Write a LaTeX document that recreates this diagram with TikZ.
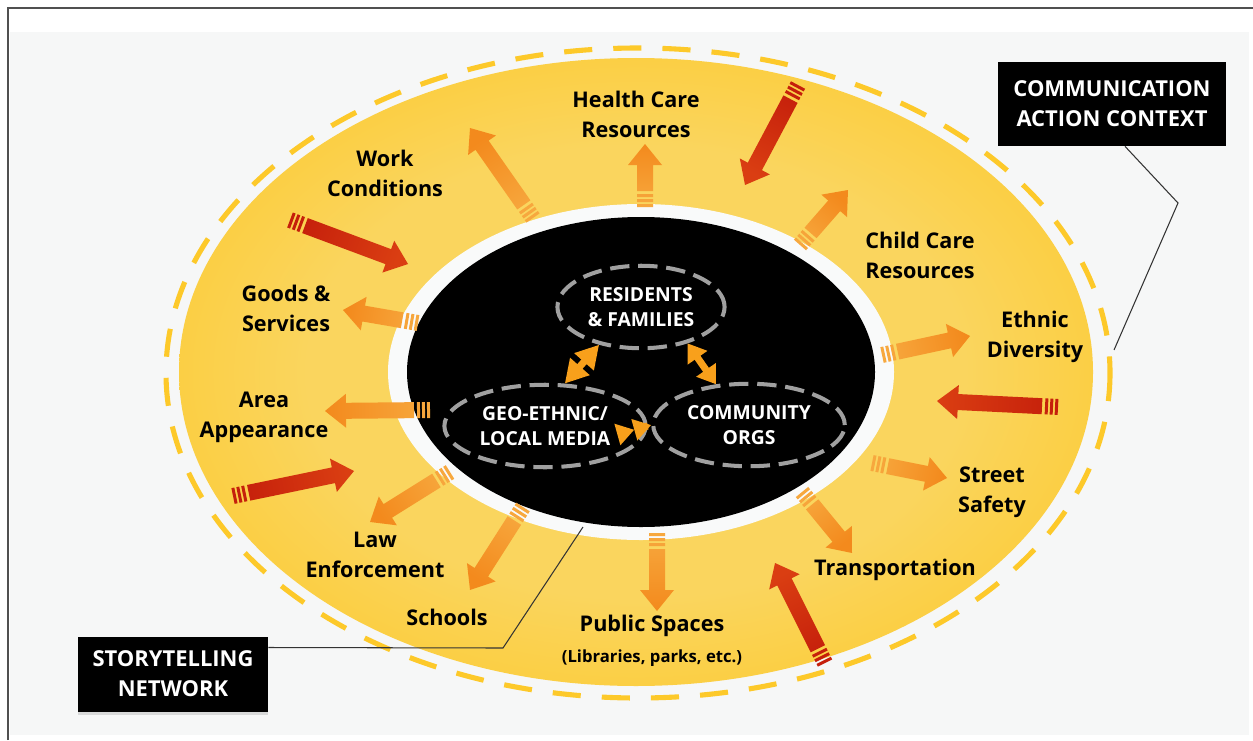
\documentclass[tikz,border=0pt]{standalone}
\usepackage{fontspec}
\setmainfont{Open Sans}
\usetikzlibrary{arrows.meta, positioning, shapes.geometric, shadows}
\definecolor{cframe}{HTML}{505050}
\definecolor{cpaper}{HTML}{F6F7F7}
\definecolor{cring}{HTML}{F9FAFA}
\definecolor{cyellow}{HTML}{FDC724}
\definecolor{cyellowlt}{HTML}{FAD55E}
\definecolor{cdash}{HTML}{FDC92A}
\definecolor{cgrey}{HTML}{A0A0A0}
\definecolor{corange}{HTML}{F7A83E}
\definecolor{corangedk}{HTML}{F38A1D}
\definecolor{cred}{HTML}{C51F0B}
\definecolor{credlt}{HTML}{DA3E12}
\definecolor{cinner}{HTML}{F8A01B}
\pgfdeclareradialshading{yellowglow}{\pgfpointorigin}{%
  color(0bp)=(cyellowlt); color(18bp)=(cyellowlt); color(34bp)=(cyellow); color(50bp)=(cyellow)}
\tikzset{
  every picture/.style={x=0.02cm, y=-0.02cm},
  lbl/.style={align=center, inner sep=1pt, font=\fontsize{12.3}{17}\selectfont\bfseries},
  small/.style={inner sep=1pt, font=\fontsize{9.5}{12}\selectfont\bfseries},
  tag/.style={fill=black, text=white, align=center, font=\fontsize{12.5}{17}\selectfont\bfseries},
  actor/.style={ellipse, draw=cgrey, line width=2.3pt, dash pattern=on 11pt off 5pt, text=white, align=center,
    font=\fontsize{11}{14}\selectfont\bfseries, minimum width=3.3cm, minimum height=1.65cm},
  link/.style={draw=cinner, line width=4pt},
  leader/.style={draw=black!80, line width=0.6pt},
}
% fat arrow with a striped tail: tail colour, head colour, tail x/y, head x/y
\newcommand\fatarrow[6]{%
  \pgfmathsetmacro\arang{atan2(#4-#6,#5-#3)}%
  \pgfmathsetmacro\arlen{veclen(#5-#3,#6-#4)}%
  \pgfmathsetmacro\arshade{\arang+90}%
  \begin{scope}[shift={(#3,#4)}, rotate=\arang, x=0.02cm, y=0.02cm]
    \shade[top color=#1, bottom color=#2, shading angle=\arshade]
      (0,-8) rectangle (3,8) (5,-8) rectangle (8,8) (10,-8) rectangle (13,8)
      (16,-8) -- (\arlen-21,-8) -- (\arlen-21,-17) -- (\arlen,0)
      -- (\arlen-21,17) -- (\arlen-21,8) -- (16,8) -- cycle;
  \end{scope}}

\begin{document}
\begin{tikzpicture}
  \useasboundingbox (0,0) rectangle (1253,740);
  \fill[white] (0,0) rectangle (1253,740);
  \fill[cpaper] (10,32) rectangle (1249,735);
  \draw[cframe, line width=1.2pt] (8,740) -- (8,8) -- (1253,8);

  % context rings
  \draw[cdash, line width=2.9pt, dash pattern=on 16pt off 12pt] (638,373) ellipse [x radius=472, y radius=325];
  \shade[shading=yellowglow] (636,372) ellipse [x radius=457, y radius=314];
  \fill[cring] (641,372) ellipse [x radius=253, y radius=168];
  \fill[black] (641,372) ellipse [x radius=234, y radius=155];

  % storytelling network
  \node[actor] (res) at (641,307) {RESIDENTS\\\& FAMILIES};
  \node[actor] (geo) at (545,426) {GEO-ETHNIC/\\LOCAL MEDIA};
  \node[actor] (org) at (749,425) {COMMUNITY\\ORGS};
  \draw[link, {Triangle[length=13pt,width=14pt]}-{Triangle[length=13pt,width=14pt]}] (res.222) -- (geo.65);
  \draw[link, {Triangle[length=10pt,width=13pt]}-{Triangle[length=10pt,width=13pt]}] (res.322) -- (org.129);
  \draw[link, -{Triangle[length=10pt,width=12pt]Triangle[length=10pt,width=12pt]}] (geo.east) -- (org.west);

  % resources going out, pressures coming in
  \foreach \tx/\ty/\hx/\hy in {533/218/470/128, 645/207/645/144, 800/245/848/190, 882/355/970/336,
      872/463/947/478, 802/492/852/553, 657/533/657/611, 523/507/470/590, 450/472/370/522,
      430/410/325/411, 418/323/343/310}
    {\fatarrow{corange}{corangedk}{\tx}{\ty}{\hx}{\hy}}
  \foreach \tx/\ty/\hx/\hy in {290/220/408/264, 798/85/745/185, 1058/407/937/401, 825/663/775/563, 233/496/354/471}
    {\fatarrow{cred}{credlt}{\tx}{\ty}{\hx}{\hy}}

  \node[lbl] (work) at (385,173) {Work\\Conditions};
  \node[lbl] (health) at (636,114) {Health Care\\Resources};
  \node[lbl] (child) at (920,255) {Child Care\\Resources};
  \node[lbl] (ethnic) at (1035,337) {Ethnic\\Diversity};
  \node[lbl] (street) at (992,492) {Street\\Safety};
  \node[lbl] (transp) at (895,570) {Transportation};
  \node[lbl] (public) at (652,626) {Public Spaces};
  \node[small] (publicsub) at (652,658) {(Libraries, parks, etc.)};
  \node[lbl] (schools) at (447,617) {Schools};
  \node[lbl] (law) at (375,555) {Law\\Enforcement};
  \node[lbl] (area) at (264,417) {Area\\Appearance};
  \node[lbl] (goods) at (286,308) {Goods \&\\Services};

  % callouts
  \node[tag, minimum width=4.58cm, minimum height=1.68cm] (ctx) at (1112,104) {COMMUNICATION\\ACTION CONTEXT};
  \node[tag, minimum width=3.8cm, minimum height=1.5cm,
    drop shadow={shadow xshift=0pt, shadow yshift=-2pt, opacity=0.25}] (net) at (173,674) {STORYTELLING\\NETWORK};
  \coordinate (ctxbend) at (1178,203);
  \coordinate (ctxend) at (1114,350);
  \coordinate (netbend) at (503,648);
  \coordinate (netend) at (583,527);
  \draw[leader] ([xshift=0.26cm]ctx.south) -- (ctxbend) -- (ctxend);
  \draw[leader] ([yshift=0.53cm]net.east) -- (netbend) -- (netend);
\end{tikzpicture}
\end{document}
